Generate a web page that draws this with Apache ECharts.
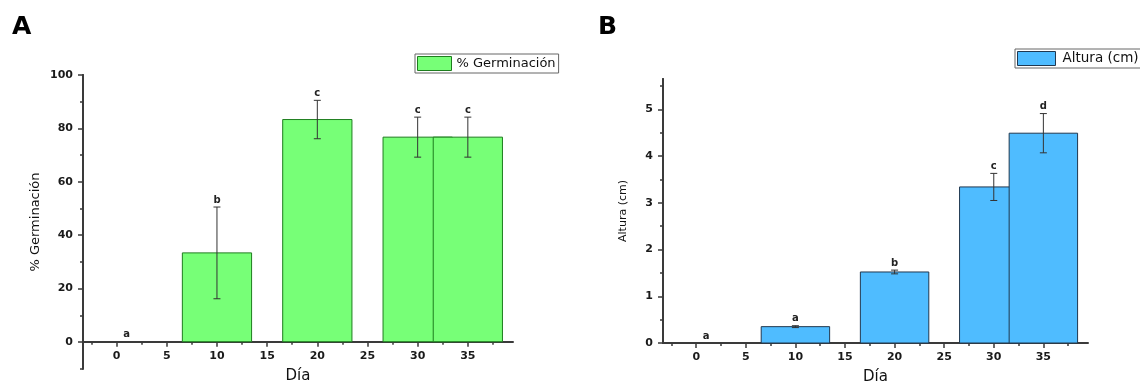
<!DOCTYPE html>
<html>
<head>
<meta charset="utf-8">
<title>Germinación y altura</title>
<script src="https://cdn.jsdelivr.net/npm/echarts@6.0.0/dist/echarts.min.js"></script>
<style>
    html, body { margin: 0; padding: 0; background: #fff; }
    #chart { width: 1140px; height: 385px; }
</style>
</head>
<body>
<div id="chart"></div>
<script>
    // datos
    var dias = [0, 10, 20, 30, 35];
    var germinacion = [0, 33.3, 83.3, 76.7, 76.7];
    var germinacionErr = [0, 17.2, 7.2, 7.5, 7.5];
    var germinacionLetras = ['a', 'b', 'c', 'c', 'c'];
    var altura = [0, 0.35, 1.52, 3.34, 4.49];
    var alturaErr = [0, 0.02, 0.04, 0.29, 0.42];
    var alturaLetras = ['a', 'a', 'b', 'c', 'd'];

    // marcas de los ejes
    var xTicks = [0, 5, 10, 15, 20, 25, 30, 35];
    var xMinorTicks = [-2.5, 2.5, 7.5, 12.5, 17.5, 22.5, 27.5, 32.5, 37.5];
    var germTicks = [0, 20, 40, 60, 80, 100];
    var germMinorTicks = [-10, 10, 30, 50, 70, 90];
    var alturaTicks = [0, 1, 2, 3, 4, 5];
    var alturaMinorTicks = [0.5, 1.5, 2.5, 3.5, 4.5, 5.5];

    var FONT = 'DejaVu Sans';
    var AXIS_COLOR = '#3a3a3a';

    function ejeX(gridIndex, ticks, menor) {
        return {
            type: 'value',
            gridIndex: gridIndex,
            min: -3.35,
            max: 39.5,
            position: 'bottom',
            name: menor ? '' : 'Día',
            nameLocation: 'middle',
            nameGap: 27,
            nameTextStyle: {fontFamily: FONT, fontSize: 15, color: '#111'},
            axisLine: {show: !menor, onZero: false, lineStyle: {color: AXIS_COLOR, width: 2}},
            axisTick: {show: true, length: menor ? 3 : 5, customValues: ticks, lineStyle: {color: AXIS_COLOR, width: 1.5}},
            axisLabel: {show: !menor, customValues: ticks, margin: 9, fontFamily: FONT, fontSize: 11, fontWeight: 'bold', color: '#1a1a1a'},
            splitLine: {show: false}
        };
    }

    function ejeY(gridIndex, min, max, ticks, menor, nombre, nameSize, nameGap) {
        return {
            type: 'value',
            gridIndex: gridIndex,
            min: min,
            max: max,
            position: 'left',
            name: nombre || '',
            nameLocation: 'middle',
            nameGap: nameGap,
            nameTextStyle: {fontFamily: FONT, fontSize: nameSize, color: '#111'},
            axisLine: {show: true, onZero: false, lineStyle: {color: AXIS_COLOR, width: 2}},
            axisTick: {show: true, length: menor ? 3 : 5, customValues: ticks, lineStyle: {color: AXIS_COLOR, width: 1.5}},
            axisLabel: {show: !menor, customValues: ticks, margin: 10, fontFamily: FONT, fontSize: 11, fontWeight: 'bold', color: '#1a1a1a'},
            splitLine: {show: false}
        };
    }

    function barrasConError(errores, letras, relleno, borde) {
        var medio = 3.45;
        return function (params, api) {
            var i = params.dataIndex;
            var x = api.value(0);
            var v = api.value(1);
            var e = errores[i];
            var hijos = [];
            if (v > 0) {
                var a = api.coord([x - medio, v]);
                var b = api.coord([x + medio, 0]);
                hijos.push({
                    type: 'rect',
                    shape: {x: a[0], y: a[1], width: b[0] - a[0], height: b[1] - a[1]},
                    style: {fill: relleno, stroke: borde, lineWidth: 1}
                });
            }
            var arriba = api.coord([x, v + e]);
            var abajo = api.coord([x, v - e]);
            if (e > 0) {
                var est = {stroke: '#333', lineWidth: 1};
                hijos.push({type: 'line', shape: {x1: arriba[0], y1: arriba[1], x2: abajo[0], y2: abajo[1]}, style: est});
                hijos.push({type: 'line', shape: {x1: arriba[0] - 3.5, y1: arriba[1], x2: arriba[0] + 3.5, y2: arriba[1]}, style: est});
                hijos.push({type: 'line', shape: {x1: abajo[0] - 3.5, y1: abajo[1], x2: abajo[0] + 3.5, y2: abajo[1]}, style: est});
            }
            hijos.push({
                type: 'text',
                x: arriba[0] + (v > 0 ? 0 : 10),
                y: arriba[1] - 2,
                style: {text: letras[i], font: 'bold 10px "DejaVu Sans"', fill: '#222', align: 'center', verticalAlign: 'bottom'}
            });
            return {type: 'group', children: hijos};
        };
    }

    // eje x oculto del tramo que baja de 0 a -10 en el panel A
    var ejeXOculto = {
        type: 'value', gridIndex: 2, min: -3.35, max: 39.5,
        axisLine: {show: false}, axisTick: {show: false}, axisLabel: {show: false}, splitLine: {show: false}
    };

    var chart = echarts.init(document.getElementById('chart'), null, {renderer: 'canvas'});
    chart.setOption({
        animation: false,
        backgroundColor: '#fff',
        graphic: [
            {type: 'text', x: 12, y: 27, style: {text: 'A', font: 'bold 25px "DejaVu Sans"', fill: '#000', verticalAlign: 'middle'}},
            {type: 'text', x: 598, y: 27, style: {text: 'B', font: 'bold 25px "DejaVu Sans"', fill: '#000', verticalAlign: 'middle'}}
        ],
        legend: [
            {
                left: 415, top: 54,
                padding: [2, 3, 2, 2],
                itemWidth: 34, itemHeight: 14,
                borderColor: '#666', borderWidth: 1,
                textStyle: {fontFamily: FONT, fontSize: 13, color: '#111'},
                data: [{name: '% Germinación', icon: 'rect', itemStyle: {color: '#77ff77', borderColor: '#1e7d1e', borderWidth: 1}}]
            },
            {
                left: 1015, top: 49,
                padding: [2, 3, 2, 2],
                itemWidth: 38, itemHeight: 14,
                borderColor: '#666', borderWidth: 1,
                textStyle: {fontFamily: FONT, fontSize: 13.5, color: '#111', padding: [0, 0, 0, 2]},
                data: [{name: 'Altura (cm)', icon: 'rect', itemStyle: {color: '#4fbcff', borderColor: '#203850', borderWidth: 1}}]
            }
        ],
        grid: [
            {left: 83, top: 75, width: 430, height: 266.7, outerBoundsMode: 'none', containLabel: false},
            {left: 663, top: 79, width: 425, height: 264, outerBoundsMode: 'none', containLabel: false},
            {left: 83, top: 75, width: 430, height: 294, outerBoundsMode: 'none', containLabel: false}
        ],
        xAxis: [
            ejeX(0, xTicks, false),
            ejeX(0, xMinorTicks, true),
            ejeX(1, xTicks, false),
            ejeX(1, xMinorTicks, true),
            ejeXOculto
        ],
        yAxis: [
            ejeY(0, 0, 100, germTicks, false),
            ejeY(2, -10, 100, germMinorTicks, true, '% Germinación', 13, 41),
            ejeY(1, 0, 5.65, alturaTicks, false, 'Altura (cm)', 11, 34),
            ejeY(1, 0, 5.65, alturaMinorTicks, true)
        ],
        series: [
            {
                name: '% Germinación',
                type: 'custom',
                xAxisIndex: 0,
                yAxisIndex: 0,
                itemStyle: {color: '#77ff77'},
                encode: {x: 0, y: 1},
                clip: false,
                data: dias.map(function (d, i) { return [d, germinacion[i]]; }),
                renderItem: barrasConError(germinacionErr, germinacionLetras, '#77ff77', '#1e7d1e')
            },
            {
                name: 'Altura (cm)',
                type: 'custom',
                xAxisIndex: 2,
                yAxisIndex: 2,
                itemStyle: {color: '#4fbcff'},
                encode: {x: 0, y: 1},
                clip: false,
                data: dias.map(function (d, i) { return [d, altura[i]]; }),
                renderItem: barrasConError(alturaErr, alturaLetras, '#4fbcff', '#203850')
            }
        ]
    });
</script>
</body>
</html>
